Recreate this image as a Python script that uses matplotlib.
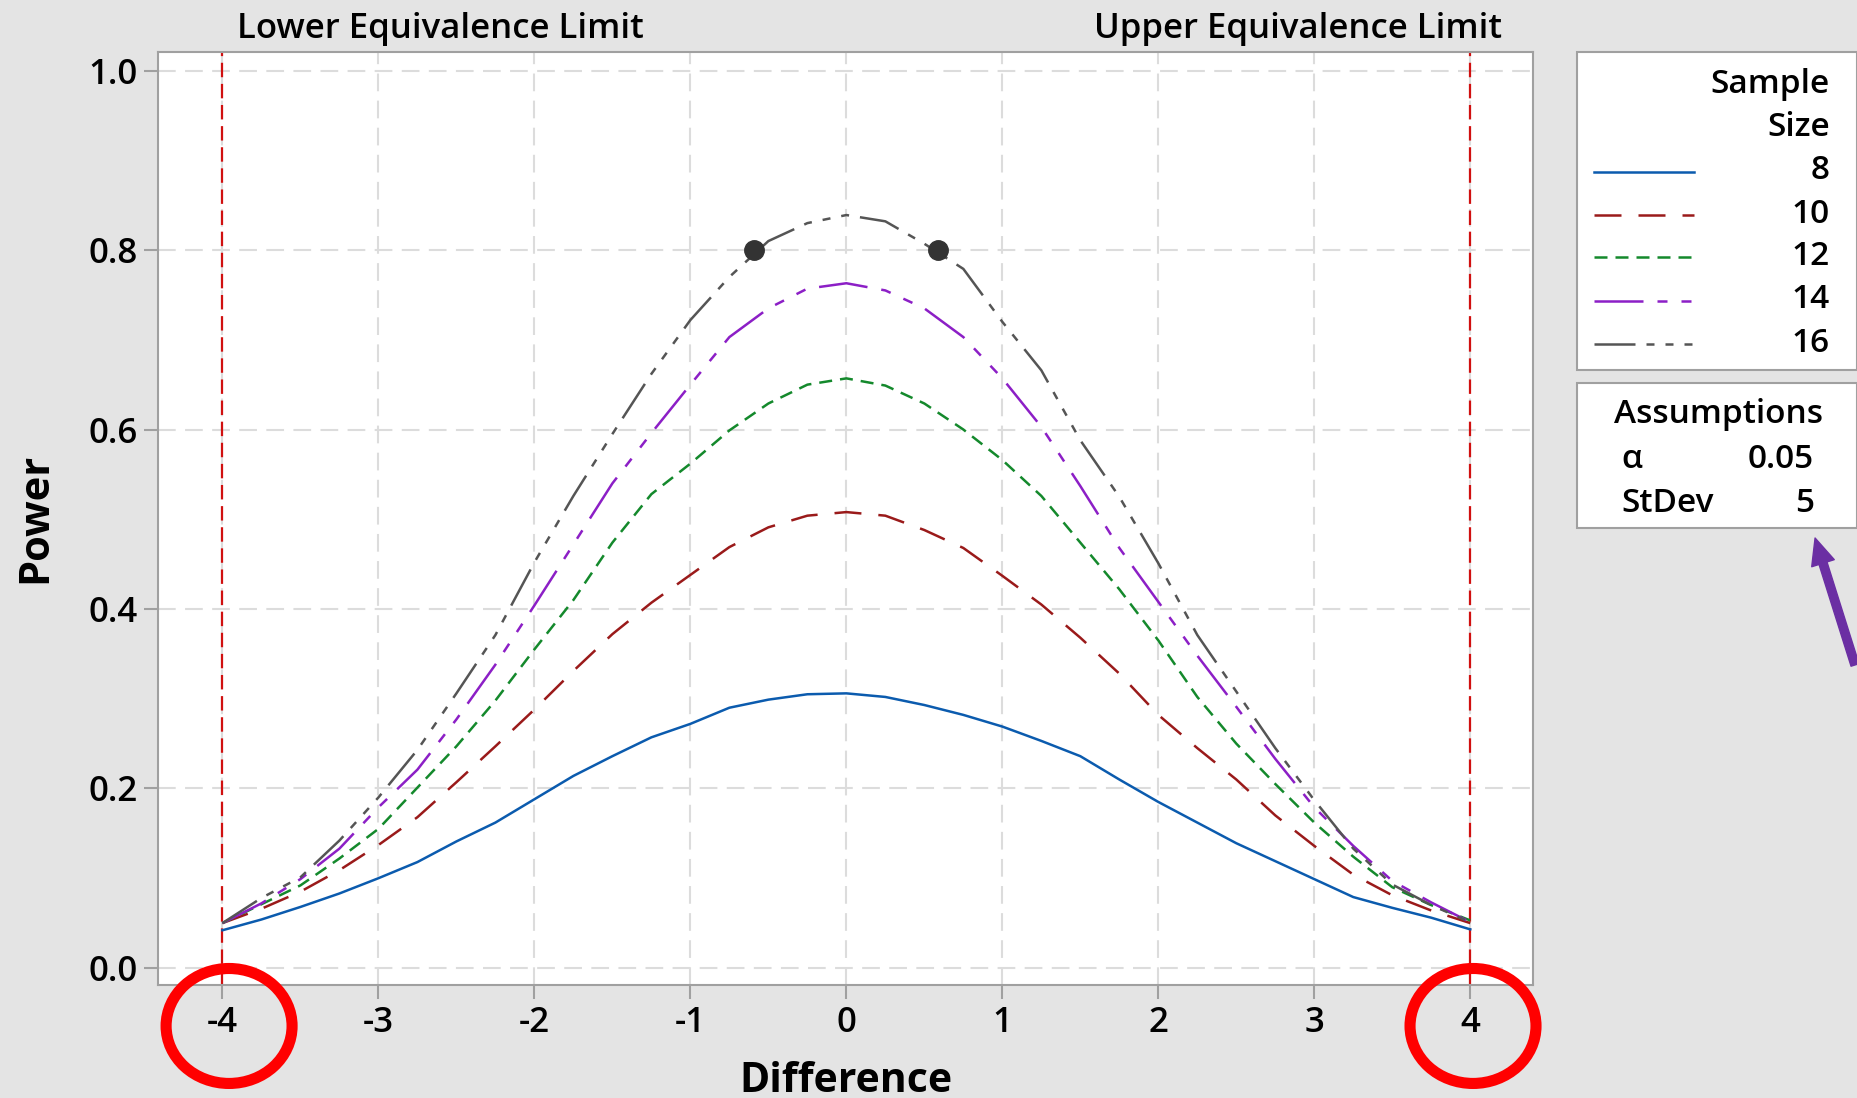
import matplotlib
matplotlib.use("Agg")
import matplotlib.pyplot as plt
from matplotlib.lines import Line2D
from matplotlib.patches import Ellipse, Rectangle, FancyArrowPatch

plt.rcParams["font.family"] = ["Open Sans", "DejaVu Sans"]

# ---- data ----
difference = [-4.0, -3.75, -3.5, -3.25, -3.0, -2.75, -2.5, -2.25, -2.0, -1.75, -1.5,
              -1.25, -1.0, -0.75, -0.5, -0.25, 0.0, 0.25, 0.5, 0.75, 1.0, 1.25, 1.5,
              1.75, 2.0, 2.25, 2.5, 2.75, 3.0, 3.25, 3.5, 3.75, 4.0]
power_n8 = [.042, .054, .068, .083, .100, .118, .141, .162, .188, .214, .236, .257, .272,
            .290, .299, .305, .306, .302, .293, .282, .269, .253, .236, .210, .185, .162,
            .139, .119, .099, .079, .067, .056, .043]
power_n10 = [.050, .066, .085, .109, .137, .168, .207, .247, .288, .331, .372, .407, .438,
             .469, .491, .504, .508, .504, .488, .468, .437, .405, .368, .328, .282, .245,
             .210, .170, .136, .104, .081, .064, .050]
power_n12 = [.050, .071, .092, .122, .155, .201, .247, .298, .355, .410, .474, .528, .562,
             .599, .629, .650, .657, .649, .629, .600, .566, .526, .474, .422, .365, .302,
             .250, .205, .162, .124, .090, .070, .053]
power_n14 = [.050, .072, .099, .133, .179, .221, .277, .338, .404, .472, .540, .596, .650,
             .703, .735, .757, .763, .755, .735, .703, .657, .603, .537, .468, .408, .348,
             .291, .233, .179, .136, .097, .073, .051]
power_n16 = [.050, .078, .101, .142, .190, .243, .306, .371, .452, .526, .595, .662, .722,
             .770, .810, .830, .839, .832, .807, .779, .720, .666, .588, .525, .451, .371,
             .308, .245, .187, .133, .093, .070, .051]
sample_sizes = [8, 10, 12, 14, 16]
target_x = [-0.59, 0.59]
target_power = [0.8, 0.8]
lower_limit, upper_limit = -4, 4
alpha_txt, stdev_txt = "0.05", "5"
xticks = [-4, -3, -2, -1, 0, 1, 2, 3, 4]
yticks = [0.0, 0.2, 0.4, 0.6, 0.8, 1.0]

curves = [power_n8, power_n10, power_n12, power_n14, power_n16]
colors = ["#0b5bae", "#9a1a1a", "#14892c", "#8c1fc6", "#555555"]
styles = ["-", (0, (10.8, 6.8)), (0, (5.2, 3.2)),
          (0, (19.6, 5.6, 4, 5.6, 4, 5.6)),
          (0, (16.4, 4.4, 3.2, 4.4, 3.2, 4.4, 3.2, 4.4))]
LW = 1.8
BG = "#e4e4e4"
EDGE = "#a0a0a0"
FW = "semibold"

fig = plt.figure(figsize=(18.58, 10.98), dpi=100, facecolor=BG)
ax = fig.add_axes([0.0853, 0.1029, 0.7396, 0.85])
ax.set_facecolor("white")

ax.grid(True, color="#dcdcdc", lw=1.5, ls=(0, (8.5, 4.5)))
ax.set_axisbelow(True)
for v in (lower_limit, upper_limit):
    ax.axvline(v, color="#d01010", lw=1.6, ls=(0, (6.5, 3)), zorder=2)

for y, c, s in zip(curves, colors, styles):
    ax.plot(difference, y, color=c, lw=LW, ls=s, zorder=3)
ax.plot(target_x, target_power, "o", color="#333333", ms=14, zorder=4)

ax.set_xlim(-4.41, 4.40)
ax.set_ylim(-0.019, 1.021)
ax.set_xticks(xticks)
ax.set_xticklabels([str(t) for t in xticks])
ax.set_yticks(yticks)
ax.set_yticklabels([f"{t:.1f}" for t in yticks])
ax.tick_params(axis="both", length=10, width=1.5, color=EDGE, labelsize=25, pad=5)
for lab in ax.get_xticklabels() + ax.get_yticklabels():
    lab.set_fontweight(FW)
for sp in ax.spines.values():
    sp.set_color(EDGE)
    sp.set_linewidth(1.5)

fig.text(0.4552, 0.0057, "Difference", fontsize=29.5, fontweight="bold",
         ha="center", va="baseline")
fig.text(0.019, 0.528, "Power", fontsize=30, fontweight="bold", rotation=90,
         ha="center", va="center")
fig.text(0.2368, 0.9657, "Lower Equivalence Limit", fontsize=25, fontweight=FW,
         ha="center", va="baseline")
fig.text(0.6984, 0.9657, "Upper Equivalence Limit", fontsize=25, fontweight=FW,
         ha="center", va="baseline")

# legend box
fig.add_artist(Rectangle((0.8488, 0.663), 0.1507, 0.29, transform=fig.transFigure,
                         facecolor="white", edgecolor=EDGE, lw=1.5))
fig.text(0.9849, 0.915, "Sample", fontsize=24, fontweight=FW, ha="right", va="baseline")
fig.text(0.9849, 0.8764, "Size", fontsize=24, fontweight=FW, ha="right", va="baseline")
line_y = [0.8431, 0.8042, 0.7662, 0.7262, 0.6867]
text_y = [0.8367, 0.7966, 0.7587, 0.7192, 0.6791]
for n, c, s, ly, ty in zip(sample_sizes, colors, styles, line_y, text_y):
    fig.add_artist(Line2D([0.8579, 0.9117], [ly, ly], transform=fig.transFigure,
                          color=c, lw=LW, ls=s))
    fig.text(0.9849, ty, str(n), fontsize=24, fontweight=FW, ha="right", va="baseline")

# assumptions box
fig.add_artist(Rectangle((0.8488, 0.519), 0.1507, 0.132, transform=fig.transFigure,
                         facecolor="white", edgecolor=EDGE, lw=1.5))
fig.text(0.9248, 0.6145, "Assumptions", fontsize=24, fontweight=FW, ha="center", va="baseline")
fig.text(0.8728, 0.5735, "α", fontsize=24, fontweight=FW, ha="left", va="baseline")
fig.text(0.9763, 0.5735, alpha_txt, fontsize=24, fontweight=FW, ha="right", va="baseline")
fig.text(0.8728, 0.534, "StDev", fontsize=24, fontweight=FW, ha="left", va="baseline")
fig.text(0.9763, 0.534, stdev_txt, fontsize=24, fontweight=FW, ha="right", va="baseline")

# call-outs
for cx in (0.1233, 0.7928):
    fig.add_artist(Ellipse((cx, 0.0656), 0.0678, 0.1047, transform=fig.transFigure,
                           fill=False, edgecolor="#ff0000", lw=8))
fig.add_artist(FancyArrowPatch((0.9984, 0.3944), (0.9769, 0.51), transform=fig.transFigure,
                               arrowstyle="simple,head_length=19,head_width=17,tail_width=6",
                               color="#6b2fa3", shrinkA=0, shrinkB=0))

fig.savefig("out.png", dpi=100, facecolor=BG)
